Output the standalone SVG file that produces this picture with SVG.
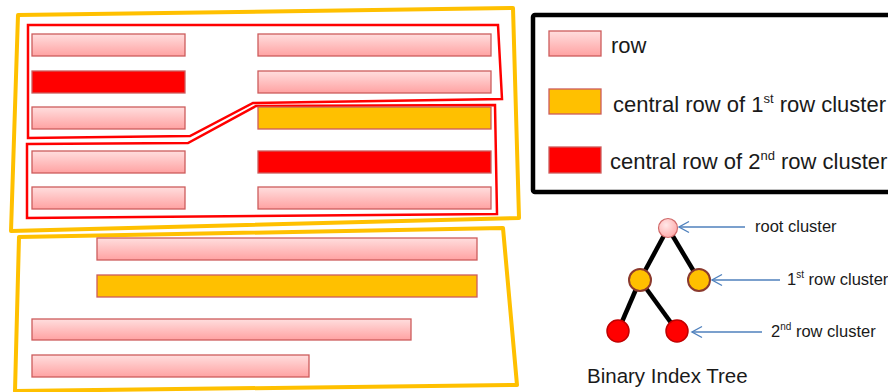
<svg xmlns="http://www.w3.org/2000/svg" width="888" height="392" viewBox="0 0 888 392">
<defs>
<linearGradient id="pinkG" x1="0" y1="0" x2="0" y2="1">
<stop offset="0" stop-color="#FFDEDE"/>
<stop offset="1" stop-color="#FFA2A2"/>
</linearGradient>
<radialGradient id="rootG" cx="0.4" cy="0.35" r="0.7">
<stop offset="0" stop-color="#FFE8E8"/>
<stop offset="1" stop-color="#FFA8A8"/>
</radialGradient>
<marker id="open" viewBox="0 0 14 14" refX="12" refY="7" markerWidth="14" markerHeight="14" markerUnits="userSpaceOnUse" orient="auto">
<path d="M2,1.5 L12,7 L2,12.5" fill="none" stroke="#4F81BD" stroke-width="1.4"/>
</marker>
</defs>
<style>
.row{fill:url(#pinkG);stroke:#CD5C5C;stroke-width:1.3}
.cen1{fill:#FFC000;stroke:#CD5C5C;stroke-width:1.3}
.cen2{fill:#FF0000;stroke:#CD5C5C;stroke-width:1.3}
.frame{fill:none;stroke:#FFC000;stroke-width:4;stroke-linejoin:round}
.cluster{fill:none;stroke:#FF0000;stroke-width:2.5;stroke-linejoin:miter}
.t{font-family:"Liberation Sans",Arial,sans-serif;fill:#1a1a1a}
.edge{stroke:#000;stroke-width:4.5;stroke-linecap:butt}
.arr{stroke:#4F81BD;stroke-width:1.3;fill:none}
</style>

<g id="upper-frame">
<path class="frame" d="M18,15 L513,8 L519,218 L11,231 Z"/>
</g>
<g id="lower-frame">
<path class="frame" d="M19,237 L503,228 L517,385 L15,391 Z"/>
</g>

<g id="cluster-1">
<path class="cluster" d="M28,25 L498,25 L502,99 L253,103 L190,136 L28,138 Z"/>
</g>
<g id="cluster-2">
<path class="cluster" d="M27,144 L188,143 L256,106 L495,105 L497,214 L27,218 Z"/>
</g>

<g id="rows-left">
<rect class="row" x="32" y="34" width="153" height="22"/>
<rect class="cen2" x="32" y="71" width="153" height="22"/>
<rect class="row" x="32" y="107" width="153" height="22"/>
<rect class="row" x="32" y="151" width="153" height="22"/>
<rect class="row" x="32" y="187" width="153" height="22"/>
</g>
<g id="rows-right">
<rect class="row" x="258" y="34" width="233" height="22"/>
<rect class="row" x="258" y="71" width="233" height="22"/>
<rect class="cen1" x="258" y="107" width="233" height="22"/>
<rect class="cen2" x="258" y="151" width="233" height="22"/>
<rect class="row" x="258" y="187" width="233" height="22"/>
</g>
<g id="rows-lower">
<rect class="row" x="97" y="238" width="380" height="22"/>
<rect class="cen1" x="97" y="275" width="380" height="22"/>
<rect class="row" x="32" y="319" width="379" height="21"/>
<rect class="row" x="32" y="355" width="277" height="22"/>
</g>

<g id="legend">
<rect x="533" y="15" width="370" height="177" fill="#fff" stroke="#000" stroke-width="4.5" rx="2"/>
<rect class="row" x="549" y="31" width="52" height="25"/>
<text class="t" x="611" y="53" font-size="22">row</text>
<rect class="cen1" x="549" y="89" width="52" height="25"/>
<text class="t" x="613" y="112" font-size="22">central row of 1<tspan font-size="13" dy="-9">st</tspan><tspan dy="9"> row cluster</tspan></text>
<rect class="cen2" x="549" y="147" width="52" height="26"/>
<text class="t" x="610" y="169" font-size="22">central row of 2<tspan font-size="13" dy="-9">nd</tspan><tspan dy="9"> row cluster</tspan></text>
</g>

<g id="tree-edges">
<line class="edge" x1="668" y1="228" x2="640" y2="280"/>
<line class="edge" x1="668" y1="228" x2="699" y2="280"/>
<line class="edge" x1="640" y1="280" x2="618" y2="331"/>
<line class="edge" x1="640" y1="280" x2="677" y2="331"/>
</g>
<g id="node-root">
<circle cx="668" cy="228" r="9.5" fill="url(#rootG)" stroke="#D06A6A" stroke-width="1.2"/>
</g>
<g id="node-l1a">
<circle cx="640" cy="280" r="11" fill="#FFC000" stroke="#8B3A2E" stroke-width="2"/>
</g>
<g id="node-l1b">
<circle cx="699" cy="280" r="11" fill="#FFC000" stroke="#8B3A2E" stroke-width="2"/>
</g>
<g id="node-l2a">
<circle cx="618" cy="331" r="11" fill="#FF0000" stroke="#C00000" stroke-width="1.5"/>
</g>
<g id="node-l2b">
<circle cx="677" cy="331" r="11" fill="#FF0000" stroke="#C00000" stroke-width="1.5"/>
</g>

<g id="connectors">
<line class="arr" x1="745" y1="227" x2="679" y2="227" marker-end="url(#open)"/>
<line class="arr" x1="780" y1="280" x2="712" y2="280" marker-end="url(#open)"/>
<line class="arr" x1="762" y1="332" x2="692" y2="332" marker-end="url(#open)"/>
</g>

<g id="tree-labels">
<text class="t" x="755" y="232" font-size="16.5">root cluster</text>
<text class="t" x="787" y="285" font-size="16.5">1<tspan font-size="10" dy="-7">st</tspan><tspan dy="7"> row cluster</tspan></text>
<text class="t" x="771" y="337" font-size="16.5">2<tspan font-size="10" dy="-7">nd</tspan><tspan dy="7"> row cluster</tspan></text>
<text class="t" x="587" y="383" font-size="20.5">Binary Index Tree</text>
</g>
</svg>
